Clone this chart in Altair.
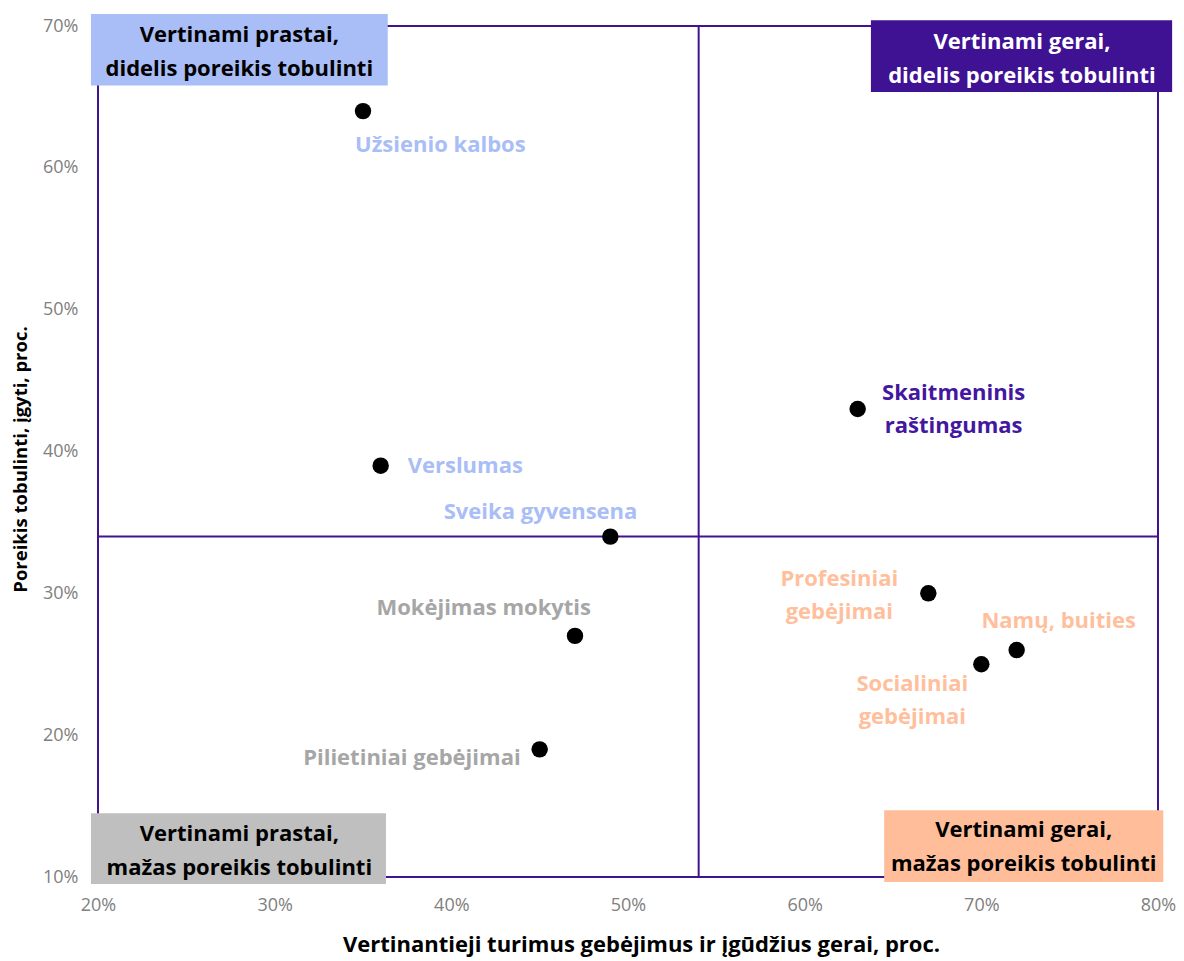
import altair as alt
import pandas as pd

# ---- data ----
skills = ["Užsienio kalbos", "Verslumas", "Sveika gyvensena", "Mokėjimas mokytis",
          "Pilietiniai gebėjimai", "Skaitmeninis raštingumas", "Profesiniai gebėjimai",
          "Namų, buities", "Socialiniai gebėjimai"]
rated_good = [35, 36, 49, 47, 45, 63, 67, 72, 70]      # x, %
need_improve = [64, 39, 34, 27, 19, 43, 30, 26, 25]    # y, %
quadrant = ["tl", "tl", "tl", "bl", "bl", "tr", "br", "br", "br"]
label_lines = [["Užsienio kalbos"], ["Verslumas"], ["Sveika gyvensena"], ["Mokėjimas mokytis"],
               ["Pilietiniai gebėjimai"], ["Skaitmeninis", "raštingumas"], ["Profesiniai", "gebėjimai"],
               ["Namų, buities"], ["Socialiniai", "gebėjimai"]]

x_split = 54
y_split = 34

quad_titles = {
    "tl": ["Vertinami prastai,", "didelis poreikis tobulinti"],
    "tr": ["Vertinami gerai,", "didelis poreikis tobulinti"],
    "bl": ["Vertinami prastai,", "mažas poreikis tobulinti"],
    "br": ["Vertinami gerai,", "mažas poreikis tobulinti"],
}

# ---- styling / layout ----
PURPLE = "#41148f"
box_fill = {"tl": "#a9bdf6", "tr": "#3f1193", "bl": "#bfbfbf", "br": "#ffbe99"}
box_text = {"tl": "black", "tr": "white", "bl": "black", "br": "black"}
label_color = {"tl": "#a9bdf6", "tr": "#4317a0", "bl": "#a6a6a6", "br": "#ffbf9c"}
# box extents in data units (x0, x1, y0, y1) and text centre
box_layout = {
    "tl": (19.6, 36.4, 65.8, 70.85, 28.0, 68.2),
    "tr": (63.75, 80.8, 65.35, 70.4, 72.3, 67.7),
    "bl": (19.6, 36.3, 9.5, 14.5, 28.0, 11.8),
    "br": (64.5, 80.3, 9.65, 14.7, 72.4, 12.1),
}
# label offsets: (align, dx, dy)
label_layout = [("left", -8, 34), ("left", 27, 0), ("right", 27, -25), ("right", 16, -28),
                ("right", -19, 9), ("center", 96, 1), ("center", -89, 2),
                ("center", 42, -29), ("center", -69, 36)]

FONT = "Open Sans"
LH = 33

df = pd.DataFrame({"skill": skills, "x": rated_good, "y": need_improve, "q": quadrant})

xs = alt.Scale(domain=[20, 80], nice=False, zero=False)
ys = alt.Scale(domain=[10, 70], nice=False, zero=False)

x_axis = alt.Axis(values=[20, 30, 40, 50, 60, 70, 80], labelExpr="datum.value + '%'",
                  grid=False, domain=False, ticks=False, labelPadding=19, labelFlush=False,
                  labelColor="#808080", labelFontSize=18, labelFont=FONT,
                  title="Vertinantieji turimus gebėjimus ir įgūdžius gerai, proc.",
                  titleFontSize=22, titleFont=FONT, titleFontWeight="bold", titleColor="black",
                  titlePadding=20, titleX=543)
y_axis = alt.Axis(values=[10, 20, 30, 40, 50, 60, 70], labelExpr="datum.value + '%'",
                  grid=False, domain=False, ticks=False, labelPadding=20, labelFlush=False,
                  labelColor="#808080", labelFontSize=18, labelFont=FONT,
                  title="Poreikis tobulinti, įgyti, proc.",
                  titleFontSize=18.5, titleFont=FONT, titleFontWeight="bold", titleColor="black",
                  titlePadding=12, titleY=433)

layers = []

# quadrant split lines
vline = alt.Chart(pd.DataFrame({"x": [x_split]})).mark_rule(color=PURPLE, strokeWidth=2).encode(
    x=alt.X("x:Q", scale=xs, axis=x_axis))
hline = alt.Chart(pd.DataFrame({"y": [y_split]})).mark_rule(color=PURPLE, strokeWidth=2).encode(
    y=alt.Y("y:Q", scale=ys, axis=y_axis))
layers += [vline, hline]

# points
pts = alt.Chart(df).mark_circle(size=270, color="black", opacity=1).encode(
    x=alt.X("x:Q", scale=xs), y=alt.Y("y:Q", scale=ys),
    tooltip=["skill", "x", "y"])
layers.append(pts)

# point labels
for i, s in enumerate(skills):
    align, dx, dy = label_layout[i]
    n = len(label_lines[i])
    d = pd.DataFrame({"x": [rated_good[i]], "y": [need_improve[i]]})
    d["lab"] = [label_lines[i]]
    t = alt.Chart(d).mark_text(align=align, baseline="middle", dx=dx, dy=dy - (n - 1) * LH / 2,
                               font=FONT, fontSize=22, fontWeight="bold", lineHeight=LH,
                               color=label_color[quadrant[i]]).encode(
        x=alt.X("x:Q", scale=xs), y=alt.Y("y:Q", scale=ys), text="lab")
    layers.append(t)

# quadrant boxes
for q, (x0, x1, y0, y1, tx, ty) in box_layout.items():
    bd = pd.DataFrame({"x0": [x0], "x1": [x1], "y0": [y0], "y1": [y1]})
    r = alt.Chart(bd).mark_rect(fill=box_fill[q], clip=False).encode(
        x=alt.X("x0:Q", scale=xs), x2="x1", y=alt.Y("y0:Q", scale=ys), y2="y1")
    td = pd.DataFrame({"x": [tx], "y": [ty]})
    td["lab"] = [quad_titles[q]]
    t = alt.Chart(td).mark_text(align="center", baseline="middle", dy=-17, font=FONT, fontSize=22,
                                fontWeight="bold", lineHeight=34, color=box_text[q]).encode(
        x=alt.X("x:Q", scale=xs), y=alt.Y("y:Q", scale=ys), text="lab")
    layers += [r, t]

chart = alt.layer(*layers).properties(
    width=1060, height=851,
    padding={"left": 90, "top": 18, "right": 18, "bottom": 82},
    autosize=alt.AutoSizeParams(type="none"),
).configure(background="white").configure_view(stroke=PURPLE, strokeWidth=2)

chart.save("out.html", embed_options={"renderer": "svg", "actions": False})
